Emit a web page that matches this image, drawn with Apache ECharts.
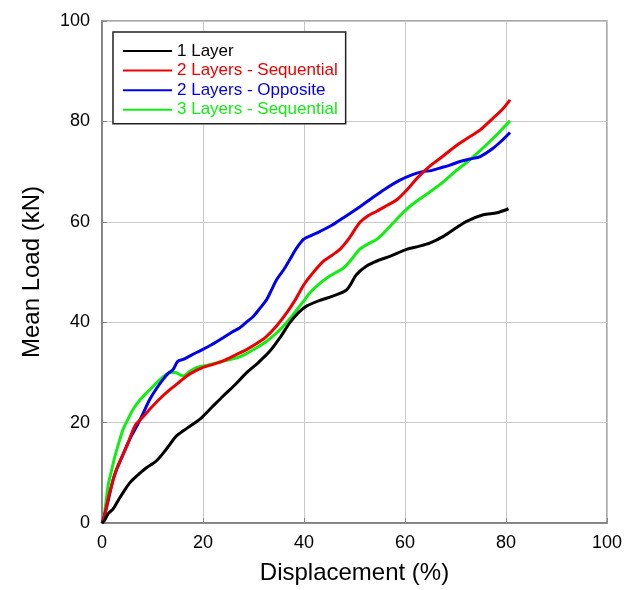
<!DOCTYPE html>
<html>
<head>
<meta charset="utf-8">
<script src="https://cdn.jsdelivr.net/npm/echarts@6/dist/echarts.min.js"></script>
<style>
  html, body { margin: 0; padding: 0; background: #fff; }
  #chart { width: 636px; height: 590px; }
</style>
</head>
<body>
<div id="chart"></div>
<script>
const seriesNames = ["1 Layer", "2 Layers - Sequential", "2 Layers - Opposite", "3 Layers - Sequential"];
const seriesColors = ["#000000", "#ee0000", "#0000ee", "#11ee11"];
const xTicks = [0, 20, 40, 60, 80, 100];

const oneLayerX = [0, 0.5, 1.2, 2.2, 3.2, 4.2, 5.5, 6.9, 8.8, 10.8, 12.8, 14.8, 17, 19.4, 21.7, 24, 26.3, 28.7, 31, 33.3, 35.3, 37.2, 39, 40.5, 43, 45.7, 48.5, 50.4, 52.4, 54.7, 57, 60.3, 62.7, 65, 67.6, 70, 72.2, 75.5, 78.2, 80.5];
const oneLayerY = [0, 0.5, 1.8, 2.8, 4.5, 6.1, 8, 9.4, 11, 12.4, 14.8, 17.4, 19, 20.7, 23, 25.3, 27.5, 30, 32, 34.3, 37, 39.9, 42, 43.2, 44.3, 45.2, 46.5, 49.5, 51.2, 52.3, 53.1, 54.5, 55.1, 55.8, 57.1, 58.7, 60.1, 61.4, 61.8, 62.6];

const twoSeqX = [0, 0.4, 1.5, 3, 5, 6.5, 8, 9.5, 11.5, 13.5, 15, 16.8, 18.5, 20, 22, 24, 26.3, 28.7, 30.7, 32.6, 34.6, 36.6, 38.3, 40, 41.5, 43.8, 45.5, 47.1, 49, 51, 52.7, 54.4, 56.5, 58.4, 60.5, 62.5, 64.8, 66.9, 68.9, 70.9, 72.9, 74.9, 77.5, 79.2, 80.8];
const twoSeqY = [0, 1, 6, 11, 15.5, 19.3, 21, 22.7, 24.8, 26.6, 27.8, 29.3, 30.3, 31, 31.6, 32.3, 33.4, 34.6, 35.8, 37.2, 39.3, 41.9, 44.5, 47.5, 49.5, 52.1, 53.3, 54.5, 56.8, 59.8, 61.2, 62.1, 63.3, 64.4, 66.5, 68.8, 71, 72.6, 74.2, 75.7, 77, 78.3, 80.7, 82.3, 84.3];

const twoOppX = [0, 0.3, 1, 1.6, 2.3, 2.9, 3.9, 4.9, 5.9, 6.9, 8.2, 9.5, 10.8, 12.1, 13.1, 14.1, 15, 16.1, 17.8, 19.4, 21.7, 24, 25.7, 27.3, 28.6, 30, 31.3, 32.6, 33.6, 34.6, 36, 37.2, 38.5, 39.9, 41.5, 43.2, 45.5, 47.8, 50.5, 53, 56, 59, 61.5, 63.5, 65.2, 66.9, 68.9, 70.9, 72.9, 74.9, 77.5, 79.2, 80.8];
const twoOppY = [0, 0.8, 3.5, 6.1, 9, 10.7, 13, 15.4, 17.5, 19.3, 22, 24.7, 26.8, 28.6, 29.8, 30.6, 32.2, 32.6, 33.5, 34.3, 35.5, 36.9, 38, 38.9, 40, 41.2, 42.8, 44.5, 46.5, 48.5, 50.5, 52.5, 54.7, 56.5, 57.3, 58.1, 59.3, 60.8, 62.6, 64.4, 66.5, 68.3, 69.4, 70, 70.2, 70.7, 71.3, 72, 72.5, 73, 74.7, 76.2, 77.8];

const threeSeqX = [0, 0.3, 0.7, 1.2, 1.9, 2.6, 3.4, 4.2, 5.2, 6.2, 7.5, 8.9, 10.2, 11.5, 12.8, 13.7, 14.5, 15.3, 16.1, 17.4, 18.8, 20.7, 22.7, 24.7, 26.7, 28.7, 30.6, 32.6, 34.6, 36.6, 38.6, 40, 41.2, 43.2, 45.1, 47.8, 49.4, 51, 52.7, 54.4, 56, 57.7, 59.3, 61, 64, 66.9, 69.9, 72.9, 74.9, 76.8, 78.8, 80.8];
const threeSeqY = [0, 0.8, 3.5, 7.4, 10.5, 13.4, 16.2, 18.7, 20.8, 22.7, 24.5, 26, 27.3, 28.6, 29.7, 30, 30, 29.6, 29.3, 30.2, 31, 31.4, 31.9, 32.4, 32.9, 33.8, 34.9, 36.2, 37.9, 40, 42.5, 44.3, 45.9, 47.8, 49.2, 50.8, 52.5, 54.5, 55.6, 56.5, 58, 59.8, 61.5, 63.1, 65.3, 67.4, 70, 72.4, 74.2, 76, 78, 80.1];

const allX = [oneLayerX, twoSeqX, twoOppX, threeSeqX];
const allY = [oneLayerY, twoSeqY, twoOppY, threeSeqY];

const font = "'Liberation Sans', Arial, sans-serif";

const chart = echarts.init(document.getElementById("chart"));
chart.setOption({
  animation: false,
  backgroundColor: "#fff",
  grid: {
    left: 102, right: 29, top: 21, bottom: 66,
    show: true, borderColor: "#8a8a8a", borderWidth: 1.5,
  },
  legend: {
    orient: "vertical",
    left: 113, top: 32,
    padding: [10.5, 8, 5.5, 10],
    itemWidth: 49, itemHeight: 14, itemGap: 2.6,
    backgroundColor: "#fff",
    borderColor: "#222", borderWidth: 1.5,
    icon: "path://M0,6 L49,6 L49,8 L0,8 Z",
    data: seriesNames.map((n, i) => ({
      name: n,
      textStyle: { color: seriesColors[i] },
    })),
    textStyle: { fontFamily: font, fontSize: 17, lineHeight: 17 },
  },
  xAxis: {
    type: "value", min: 0, max: 100, interval: 20,
    name: "Displacement (%)", nameLocation: "middle", nameGap: 38,
    nameTextStyle: { fontFamily: font, fontSize: 24, color: "#000" },
    axisLine: { lineStyle: { color: "#777", width: 1.5 } },
    axisTick: { inside: true, length: 5, lineStyle: { color: "#888" } },
    axisLabel: { margin: 11, fontFamily: font, fontSize: 18, color: "#000",
      formatter: v => xTicks.includes(v) ? String(v) : "" },
    splitLine: { lineStyle: { color: "#c8c8c8", width: 1 } },
  },
  yAxis: {
    type: "value", min: 0, max: 100, interval: 20,
    name: "Mean Load (kN)", nameLocation: "middle", nameGap: 58,
    nameTextStyle: { fontFamily: font, fontSize: 24, color: "#000" },
    axisLine: { show: true, lineStyle: { color: "#777", width: 1.5 } },
    axisTick: { show: true, inside: true, length: 5, lineStyle: { color: "#888" } },
    axisLabel: { margin: 12, fontFamily: font, fontSize: 18, color: "#000" },
    splitLine: { lineStyle: { color: "#c8c8c8", width: 1 } },
  },
  series: seriesNames.map((n, i) => ({
    name: n,
    type: "line",
    showSymbol: false,
    symbol: "none",
    smooth: 0.3,
    z: 10 - i,
    color: seriesColors[i],
    lineStyle: { width: 3, color: seriesColors[i] },
    data: allX[i].map((x, k) => [x, allY[i][k]]),
  })),
});
</script>
</body>
</html>
